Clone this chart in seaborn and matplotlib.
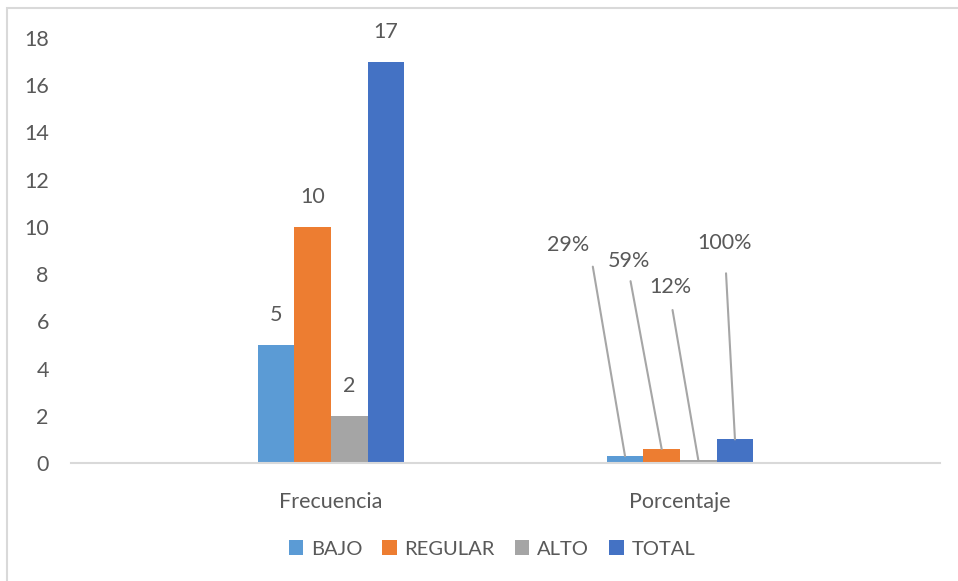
import matplotlib
matplotlib.use("Agg")
import matplotlib.pyplot as plt
import seaborn as sns
import pandas as pd
from matplotlib.patches import Rectangle

categories = ["Frecuencia", "Porcentaje"]
series = ["BAJO", "REGULAR", "ALTO", "TOTAL"]
frecuencia = [5, 10, 2, 17]
porcentaje = [0.29, 0.59, 0.12, 1.00]
colors = ["#5B9BD5", "#ED7D31", "#A5A5A5", "#4472C4"]
yticks = [0, 2, 4, 6, 8, 10, 12, 14, 16, 18]

rows = []
for s, f, p in zip(series, frecuencia, porcentaje):
    rows.append({"cat": categories[0], "serie": s, "valor": f})
    rows.append({"cat": categories[1], "serie": s, "valor": p})
df = pd.DataFrame(rows)

sns.set_theme(style="white")
plt.rcParams["font.family"] = ["Lato", "DejaVu Sans"]
txt = "#595959"
fs = 15.5

W, H = 958, 581
fig = plt.figure(figsize=(W / 100, H / 100), dpi=100)
ax = fig.add_axes([71 / W, (H - 463) / H, (940 - 71) / W, (463 - 38) / H])

sns.barplot(data=df, x="cat", y="valor", hue="serie", order=categories,
            hue_order=series, palette=colors, width=0.42, ax=ax,
            saturation=1, legend=True, linewidth=0)

ax.set_xlim(-0.745, 1.745)
ax.set_ylim(0, 18)
ax.set_yticks(yticks)
ax.set_yticklabels([str(t) for t in yticks], color=txt, fontsize=fs)
ax.tick_params(axis="y", length=0, pad=16)
ax.tick_params(axis="x", length=0, pad=21, labelsize=fs, labelcolor=txt)
ax.set_xlabel("")
ax.set_ylabel("")
for side in ["left", "right", "top"]:
    ax.spines[side].set_visible(False)
ax.spines["bottom"].set_color("#D9D9D9")
ax.spines["bottom"].set_linewidth(1.5)

containers = ax.containers
# Frecuencia labels
for ci, cont in enumerate(containers):
    b = list(cont)[0]
    ax.annotate(f"{frecuencia[ci]}", (b.get_x() + b.get_width() / 2, b.get_height()),
                xytext=(0, 30), textcoords="offset pixels", ha="center", va="center",
                fontsize=fs, color=txt, annotation_clip=False)

# percentage labels with leader lines (offsets in pixels from bar top)
offsets = [(-57, 211), (-33, 188), (-28, 173), (-10, 196)]
relpos = [(1.0, 0.5), (0.5, 0.0), (0.5, 0.0), (0.5, 0.0)]
shrinks = [6, 5, 7, 12]
for ci, cont in enumerate(containers):
    b = list(cont)[1]
    xy = (b.get_x() + b.get_width() / 2, b.get_height())
    ax.annotate(f"{porcentaje[ci]:.0%}", xy, xytext=offsets[ci], textcoords="offset pixels",
                ha="center", va="center", fontsize=fs, color=txt,
                arrowprops=dict(arrowstyle="-", color="#A6A6A6", lw=1.5,
                                shrinkA=shrinks[ci], shrinkB=0, relpos=relpos[ci]),
                annotation_clip=False)

leg = ax.legend(loc="center", bbox_to_anchor=(492 / W, (H - 549) / H),
                bbox_transform=fig.transFigure, ncol=4, frameon=False,
                fontsize=14.5, handlelength=0.7, handleheight=0.7,
                handletextpad=0.4, columnspacing=1.0)
for t in leg.get_texts():
    t.set_color(txt)

# outer chart border
fig.patches.append(Rectangle((7 / W, -0.1), 1.2, (H - 8) / H + 0.1,
                             transform=fig.transFigure, fill=False,
                             edgecolor="#D9D9D9", lw=1.5))

fig.savefig("out.png", dpi=100)
